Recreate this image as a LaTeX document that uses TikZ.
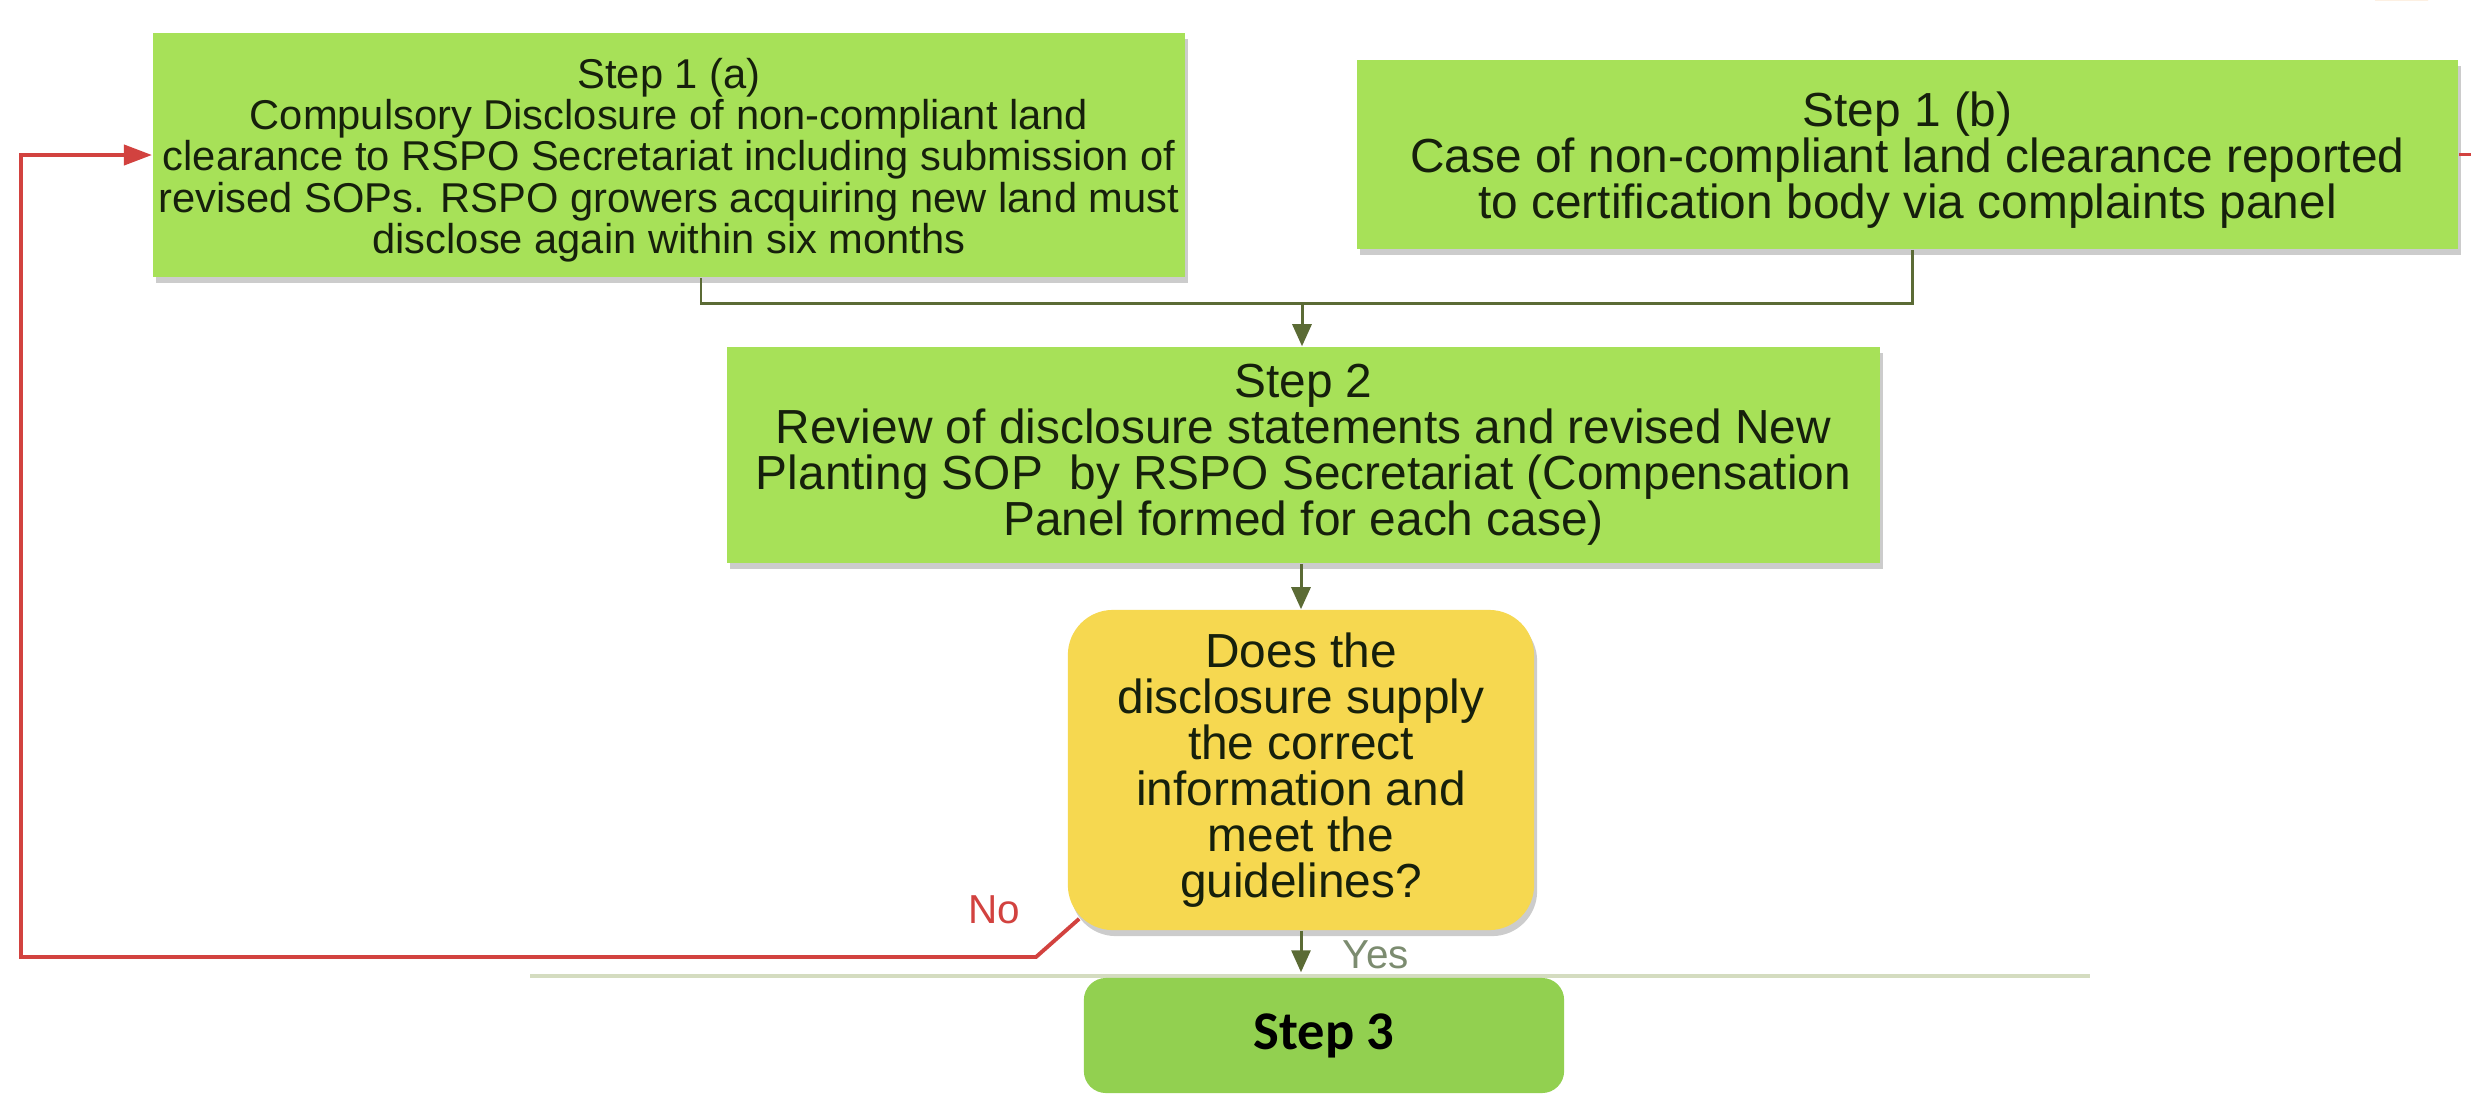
\documentclass[tikz,border=0pt]{standalone}
\usepackage{fontspec}
\setmainfont{Liberation Sans}
\newfontfamily\carlito{Carlito}
\usetikzlibrary{arrows.meta,shadows,calc}
\definecolor{boxgreen}{HTML}{A7E158}
\definecolor{decyellow}{HTML}{F6D850}
\definecolor{stepgreen}{HTML}{92D050}
\definecolor{textdark}{HTML}{16200C}
\definecolor{olive}{HTML}{5B6B35}
\definecolor{loopred}{HTML}{D2423F}
\definecolor{yesgray}{HTML}{7C8C70}
\definecolor{faintline}{HTML}{D4DCC0}
\definecolor{blob}{HTML}{F08A1C}
\begin{document}
\begin{tikzpicture}[x=0.01cm,y=-0.01cm,
  shadowed/.style={drop shadow={shadow xshift=0.03cm,shadow yshift=-0.06cm,fill=black,opacity=0.2}},
  box/.style={fill=boxgreen,inner sep=0pt,shadowed},
  txt/.style={align=center,inner sep=0pt,text=textdark},
  bigtext/.style={font=\fontsize{13.6}{13.1}\selectfont},
  smalltext/.style={font=\fontsize{11.85}{11.75}\selectfont},
  decbox/.style={fill=decyellow,rounded corners=0.45cm,align=center,inner sep=0pt,text=textdark,shadowed},
  stepthree/.style={fill=stepgreen,rounded corners=0.22cm,inner sep=0pt,font=\carlito\bfseries\fontsize{15.5}{18}\selectfont},
  conn/.style={draw=olive,line width=0.85pt},
  arr/.style={-{Triangle[length=0.22cm,width=0.19cm]}},
  redline/.style={draw=loopred,line width=1.1pt},
  lbl/.style={inner sep=0pt,font=\fontsize{11.5}{13}\selectfont}
]
\useasboundingbox[fill=white] (0,0) rectangle (2471,1096);
% faint edge line of the pasted screenshot
\draw[faintline,line width=0.9pt] (530,976) -- (2090,976);
% orange fragment at the top right corner
\fill[blob] (2375,0) -- (2428,0) arc[start angle=0,end angle=-180,x radius=26.5,y radius=5] -- cycle;

\node[box,minimum width=10.32cm,minimum height=2.44cm] (a) at (669,155) {};
\node[txt,smalltext] (atext) at ($(a.center)+(0,5)$)
  {Step 1 (a)\\Compulsory Disclosure of non-compliant land\\clearance to RSPO Secretariat including submission of\\revised SOPs. RSPO growers acquiring new land must\\disclose again within six months};
\node[box,minimum width=11.01cm,minimum height=1.89cm] (b) at (1907.5,154.5) {};
\node[txt,bigtext] (btext) at ($(b.center)+(0,6)$)
  {Step 1 (b)\\Case of non-compliant land clearance reported\\to certification body via complaints panel};
\node[box,minimum width=11.53cm,minimum height=2.16cm] (s2) at (1303.5,455) {};
\node[txt,bigtext] (s2text) at (s2.center)
  {Step 2\\Review of disclosure statements and revised New\\Planting SOP\ \ by RSPO Secretariat (Compensation\\Panel formed for each case)};
\node[decbox,bigtext,minimum width=4.66cm,minimum height=3.20cm] (dec) at (1301,770)
  {Does the\\disclosure supply\\the correct\\information and\\meet the\\guidelines?};
\node[stepthree,minimum width=4.80cm,minimum height=1.15cm] (s3) at (1324,1035.5) {Step 3};

\coordinate (j) at (1302,303);
\draw[conn] ($(a.south)+(32,0)$) |- (j);
\draw[conn] ($(b.south)+(5,0)$) |- (j);
\draw[conn,arr] (j) -- (j |- s2.north);
\draw[conn,arr] (dec.north |- s2.south) -- (dec.north);
\draw[conn,arr] (dec.south) -- ($(dec.south |- s3.north)+(0,-5)$);
\node[lbl,text=yesgray,anchor=base west] (yes) at (1342,968) {Yes};

\draw[redline,-{Triangle[length=0.28cm,width=0.2cm]}] ($(dec.south west)+(12,-12)$) -- (1036,957) -- (21,957) -- (21,155) -- (a.west);
\node[lbl,text=loopred] (no) at (994,910) {No};
\coordinate (edge) at (2471,154.5);
\draw[redline] (b.east) -- (edge);
\end{tikzpicture}
\end{document}
